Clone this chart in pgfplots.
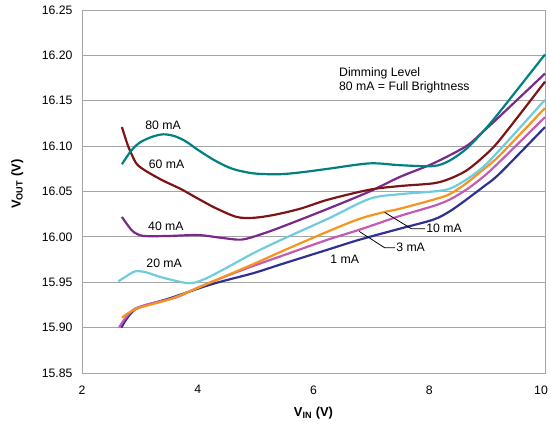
\documentclass[border=0pt]{standalone}
\usepackage{fontspec}
\setmainfont{Liberation Sans}
\usepackage{pgfplots}
\pgfplotsset{compat=1.18}
\definecolor{cteal}{RGB}{0,128,128}
\definecolor{cdred}{RGB}{124,20,24}
\definecolor{cpurp}{RGB}{122,40,138}
\definecolor{clblue}{RGB}{110,204,221}
\definecolor{corange}{RGB}{247,148,29}
\definecolor{cpink}{RGB}{196,90,179}
\definecolor{cnavy}{RGB}{46,49,146}
\definecolor{cgrid}{RGB}{165,165,165}
\begin{document}
\begin{tikzpicture}
\useasboundingbox (0,0) rectangle (550bp,427bp);
\begin{axis}[
  at={(82bp,54bp)}, anchor=south west,
  scale only axis, width=463bp, height=363bp,
  xmin=2, xmax=10, ymin=15.85, ymax=16.25,
  xtick={2,4,6,8},
  extra x ticks={10},
  extra x tick style={xticklabel style={xshift=-4bp}},
  ytick={15.85,15.90,...,16.25},
  ymajorgrids, major grid style={cgrid, line width=0.9pt},
  axis line style={cgrid, line width=0.9pt},
  major tick length=0pt,
  font=\fontsize{12.3}{14}\selectfont,
  /pgf/number format/assume math mode=true,
  yticklabel={\pgfmathprintnumber[fixed,fixed zerofill,precision=2]{\tick}},
  xticklabel={\pgfmathprintnumber{\tick}},
  yticklabel style={anchor=east, xshift=-6bp},
  xticklabel style={anchor=north, yshift=-9bp},
  xlabel={\textbf{V\textsubscript{IN} (V)}},
  ylabel={\textbf{V\textsubscript{OUT} (V)}},
  label style={font=\fontsize{13}{15}\selectfont},
  xlabel style={at={(axis description cs:0.5,-0.11)}, anchor=center},
  ylabel style={at={(axis description cs:-0.14,0.52)}, anchor=center, rotate=0},
  every axis plot/.append style={line width=2.2pt, smooth, tension=0.5, no marks},
  clip=false,
]
% 1 mA
\addplot[cnavy] coordinates {(2.68,15.900) (2.92,15.920) (3.5,15.932) (4.25,15.948) (4.96,15.960) (5.45,15.970) (6.25,15.986) (6.8,15.997) (7.49,16.009) (8.07,16.019) (8.35,16.028) (8.64,16.041) (8.93,16.055) (9.22,16.070) (10,16.121)};
% 3 mA
\addplot[cpink] coordinates {(2.64,15.900) (2.92,15.921) (3.61,15.933) (4.0,15.944) (4.5,15.957) (4.96,15.968) (5.45,15.979) (6.25,15.997) (6.8,16.008) (7.49,16.023) (8.07,16.034) (8.35,16.041) (8.64,16.052) (8.93,16.066) (9.22,16.083) (10,16.132)};
% 10 mA
\addplot[corange] coordinates {(2.69,15.911) (2.95,15.921) (3.55,15.932) (4.30,15.952) (4.96,15.970) (5.45,15.984) (6.25,16.006) (6.8,16.020) (7.2,16.027) (7.49,16.031) (8.07,16.041) (8.35,16.047) (8.64,16.059) (8.93,16.074) (9.22,16.090) (10,16.142)};
% 20 mA
\addplot[clblue] coordinates {(2.63,15.951) (2.75,15.956) (2.92,15.962) (3.1,15.961) (3.4,15.955) (3.84,15.949) (4.1,15.953) (4.5,15.966) (4.96,15.982) (5.45,15.997) (6.25,16.020) (6.97,16.042) (7.49,16.047) (8.07,16.050) (8.35,16.053) (8.64,16.063) (8.93,16.077) (9.22,16.096) (10,16.151)};
% 40 mA
\addplot[cpurp] coordinates {(2.69,16.022) (2.8,16.012) (2.9,16.005) (3.07,16.001) (3.5,16.001) (4.01,16.002) (4.4,15.999) (4.76,15.997) (5.1,16.003) (5.45,16.011) (6.25,16.031) (6.97,16.050) (7.49,16.066) (8.07,16.081) (8.64,16.100) (8.93,16.116) (9.22,16.133) (10,16.180)};
% 60 mA
\addplot[cdred] coordinates {(2.69,16.121) (2.78,16.103) (2.85,16.092) (2.95,16.080) (3.12,16.072) (3.4,16.062) (3.7,16.053) (3.98,16.043) (4.3,16.032) (4.67,16.022) (4.96,16.021) (5.3,16.024) (5.77,16.031) (6.25,16.041) (6.97,16.052) (7.49,16.056) (8.07,16.059) (8.35,16.064) (8.64,16.073) (8.93,16.088) (9.22,16.107) (10,16.171)};
% 80 mA
\addplot[cteal] coordinates {(2.69,16.080) (2.85,16.095) (3.0,16.104) (3.2,16.110) (3.4,16.113) (3.6,16.111) (3.8,16.105) (4.0,16.096) (4.3,16.084) (4.6,16.075) (4.96,16.070) (5.4,16.069) (5.77,16.071) (6.25,16.075) (6.97,16.081) (7.49,16.079) (8.07,16.078) (8.35,16.084) (8.64,16.097) (8.93,16.116) (9.22,16.138) (10,16.201)};
% labels
\node at (axis cs:3.40,16.123) {80 mA};
\node at (axis cs:3.46,16.080) {60 mA};
\node at (axis cs:3.45,16.012) {40 mA};
\node at (axis cs:3.42,15.971) {20 mA};
\node[anchor=west, inner sep=1pt] at (axis cs:7.93,16.009) {10 mA};
\node[anchor=west, inner sep=1pt] at (axis cs:7.41,15.988) {3 mA};
\node at (axis cs:6.54,15.975) {1 mA};
\draw[black, line width=0.8pt] (axis cs:7.23,16.027) -- (axis cs:7.69,16.009) -- (axis cs:7.93,16.009);
\draw[black, line width=0.8pt] (axis cs:6.79,16.006) -- (axis cs:7.23,15.988) -- (axis cs:7.41,15.988);
\node[anchor=west, align=left, inner sep=0pt] at (axis cs:6.44,16.173) {Dimming Level\\80 mA = Full Brightness};
\end{axis}
\end{tikzpicture}
\end{document}
